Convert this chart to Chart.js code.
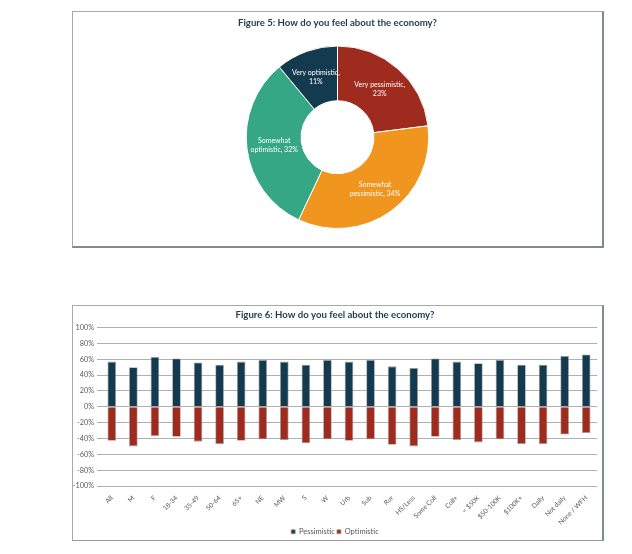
<!DOCTYPE html>
<html>
<head>
<meta charset="utf-8">
<script src="https://cdn.jsdelivr.net/npm/chart.js@4.4.0/dist/chart.umd.min.js"></script>
<style>
    body { margin: 0; background: #fff; }
    .box {
        position: absolute;
        left: 72px;
        width: 529px;
        height: 234px;
        background: #fff;
        border-top: 1px solid #a9a9a9;
        border-left: 1px solid #a9a9a9;
        border-right: 2px solid #7f8b8c;
        border-bottom: 2px solid #7f8b8c;
    }
    #box1 { top: 11px; }
    #box2 { top: 305px; border-bottom: 1px solid #9a9a9a; }
    canvas { display: block; }
</style>
</head>
<body>
<div class="box" id="box1"><canvas id="myChartDonut" width="529" height="234"></canvas></div>
<div class="box" id="box2"><canvas id="myChartBar" width="529" height="234"></canvas></div>
<script>
// figure 5
const feelings = ['Very pessimistic', 'Somewhat pessimistic', 'Somewhat optimistic', 'Very optimistic']
const feelingShares = [23, 34, 32, 11]
const feelingColors = ['#9e2b1e', '#f0961e', '#35a784', '#143a4f']

// figure 6
const groups = ['All', 'M', 'F', '18-34', '35-49', '50-64', '65+', 'NE', 'MW', 'S', 'W', 'Urb', 'Sub', 'Rur',
    'HS/Less', 'Some Coll', 'Coll+', '< $50K', '$50-100K', '$100K+', 'Daily', 'Not daily', 'None / WFH']
const pessimistic = [57, 50, 63, 61, 56, 53, 57, 59, 57, 53, 59, 57, 59, 51, 49, 61, 57, 55, 59, 53, 53, 64, 66]
const optimistic = [-43, -50, -37, -38, -44, -47, -43, -41, -42, -46, -41, -43, -41, -48, -50, -38, -42, -45, -41, -47, -47, -35, -33]
const yTicks = [-100, -80, -60, -40, -20, 0, 20, 40, 60, 80, 100]

const titleColor = '#1e3a4c'
const tickColor = '#595959'
const fontName = 'Lato'

function wrapText(ctx, text, maxWidth) {
    let words = text.split(' ')
    let lines = []
    let line = ''
    words.forEach(w => {
        let test = line ? line + ' ' + w : w
        if (line && ctx.measureText(test).width > maxWidth) {
            lines.push(line)
            line = w
        }
        else
            line = test
    })
    lines.push(line)
    return lines
}

const sliceLabels = {
    id: 'sliceLabels',
    afterDatasetsDraw(chart) {
        let ctx = chart.ctx
        let meta = chart.getDatasetMeta(0)
        ctx.save()
        ctx.font = '7px ' + fontName
        ctx.fillStyle = '#ffffff'
        ctx.textAlign = 'center'
        ctx.textBaseline = 'middle'
        meta.data.forEach((arc, i) => {
            let p = arc.tooltipPosition()
            let txt = chart.data.labels[i] + ', ' + chart.data.datasets[0].data[i] + '%'
            let lines = wrapText(ctx, txt, 52)
            let lh = 9
            let y0 = p.y - (lines.length - 1) * lh / 2
            lines.forEach((l, k) => ctx.fillText(l, p.x, y0 + k * lh))
        })
        ctx.restore()
    }
}

function BuildDonut() {
    var data = {
        labels: feelings,
        datasets: [{
            data: feelingShares,
            backgroundColor: feelingColors,
            borderColor: '#ffffff',
            borderWidth: 1
        }]
    };
    var ctx = document.getElementById('myChartDonut');
    var myChart = new Chart(ctx, {
        type: 'doughnut',
        data: data,
        plugins: [sliceLabels],
        options: {
            responsive: false,
            animation: false,
            cutout: '40%',
            layout: { padding: { bottom: 17 } },
            plugins: {
                legend: { display: false },
                tooltip: { enabled: false },
                title: {
                    display: true,
                    text: 'Figure 5: How do you feel about the economy?',
                    color: titleColor,
                    font: { family: fontName, size: 9.6, weight: 'bold' },
                    padding: { top: 5, bottom: 17 }
                }
            }
        }
    });
    return myChart;
}

function BuildBars() {
    var data = {
        labels: groups,
        datasets: [{
            label: 'Pessimistic',
            data: pessimistic,
            backgroundColor: '#133a4f',
            borderColor: 'rgba(150,150,150,0.9)',
            borderWidth: 0.8,
            barPercentage: 0.4,
            categoryPercentage: 1
        }, {
            label: 'Optimistic',
            data: optimistic,
            backgroundColor: '#9e2b1e',
            borderColor: 'rgba(150,150,150,0.9)',
            borderWidth: 0.8,
            barPercentage: 0.4,
            categoryPercentage: 1
        }]
    };
    var ctx = document.getElementById('myChartBar');
    var myChart = new Chart(ctx, {
        type: 'bar',
        data: data,
        options: {
            responsive: false,
            animation: false,
            layout: { padding: { right: 5, bottom: 2 } },
            plugins: {
                tooltip: { enabled: false },
                title: {
                    display: true,
                    text: 'Figure 6: How do you feel about the economy?',
                    color: titleColor,
                    font: { family: fontName, size: 9.6, weight: 'bold' },
                    padding: { top: 3, bottom: 7 }
                },
                legend: {
                    position: 'bottom',
                    maxHeight: 12,
                    labels: {
                        boxWidth: 4,
                        boxHeight: 4,
                        padding: 2,
                        color: tickColor,
                        font: { family: fontName, size: 7.5 }
                    }
                }
            },
            scales: {
                x: {
                    stacked: true,
                    grid: { display: false },
                    border: { display: false },
                    ticks: {
                        color: tickColor,
                        font: { family: fontName, size: 6.6 },
                        minRotation: 45,
                        maxRotation: 45,
                        autoSkip: false,
                        padding: 0
                    },
                    afterFit: s => { s.height = 40 }
                },
                y: {
                    stacked: true,
                    min: yTicks[0],
                    max: yTicks[yTicks.length - 1],
                    afterBuildTicks: s => { s.ticks = yTicks.map(v => ({ value: v })) },
                    grid: { color: '#b0b0b0', lineWidth: 1, tickLength: 4 },
                    border: { display: false },
                    ticks: {
                        color: tickColor,
                        font: { family: fontName, size: 7.3 },
                        padding: 3,
                        callback: v => v + '%'
                    },
                    afterFit: s => { s.width = 28 }
                }
            }
        }
    });
    return myChart;
}

BuildDonut()
BuildBars()
</script>
</body>
</html>
